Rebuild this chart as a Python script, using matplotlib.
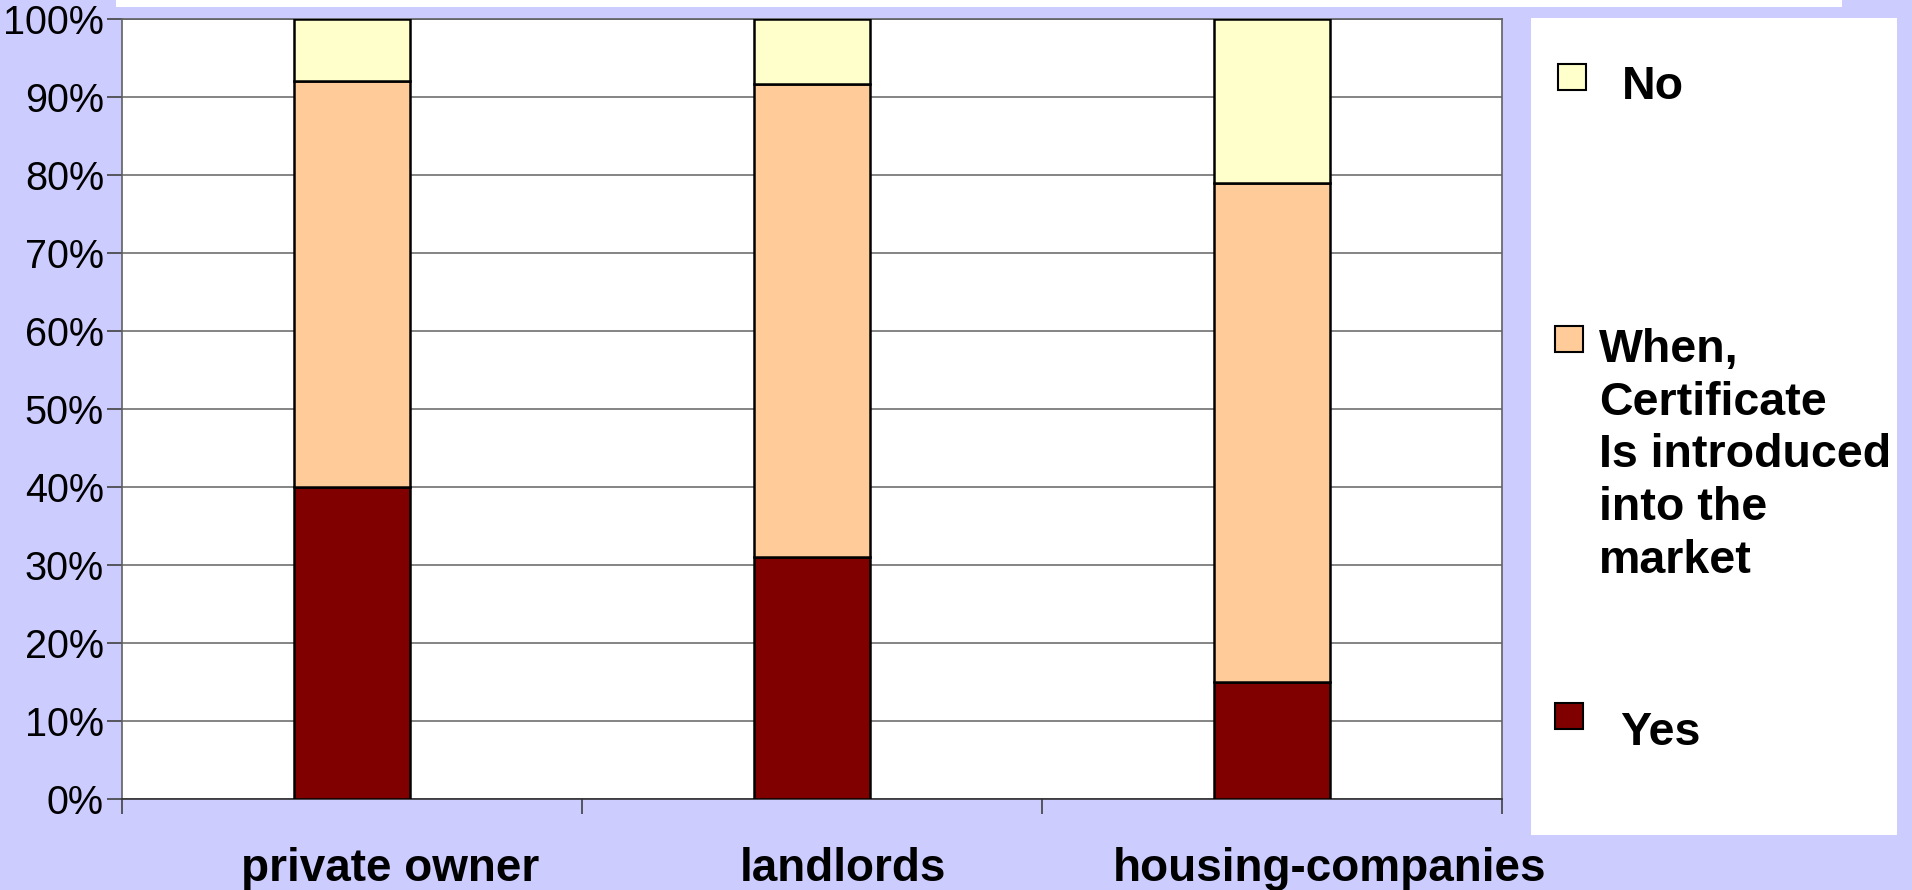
import matplotlib
matplotlib.use("Agg")
import matplotlib.pyplot as plt
from matplotlib.patches import Rectangle
from matplotlib.transforms import blended_transform_factory

plt.rcParams['font.family'] = ['Liberation Sans', 'DejaVu Sans']

# data (percent)
categories = ["private owner", "landlords", "housing-companies"]
yes_vals = [40, 31, 15]
when_vals = [52, 60.7, 64]
no_vals = [8, 8.3, 21]

series_names = ["Yes", "When,\nCertificate\nIs introduced\ninto the\nmarket", "No"]
series_colors = ["#800000", "#FFCC99", "#FFFFCC"]

BG = "#CCCCFF"
W, H = 1912, 890

fig = plt.figure(figsize=(W / 100, H / 100), dpi=100, facecolor=BG)
ax = fig.add_axes([122 / W, (H - 799) / H, 1380 / W, 780 / H])
ax.set_facecolor("white")

# white strip at the very top (cut-off title box)
fig.patches.append(Rectangle((116 / W, (H - 7) / H), (1842 - 116) / W, 7 / H,
                             transform=fig.transFigure, facecolor="white",
                             edgecolor="none", zorder=0))

x = [i + 0.5 for i in range(len(categories))]
bottom = [0] * len(categories)
for vals, color in zip([yes_vals, when_vals, no_vals], series_colors):
    ax.bar(x, vals, width=0.252, bottom=bottom, color=color,
           edgecolor="black", linewidth=1.8, zorder=3)
    bottom = [b + v for b, v in zip(bottom, vals)]

ax.set_xlim(0, len(categories))
ax.set_ylim(0, 100)
ax.set_yticks(range(0, 101, 10))
ax.set_yticklabels([f"{v}%" for v in range(0, 101, 10)], fontsize=28.5)
ax.yaxis.grid(True, color="#707070", linewidth=1.2, zorder=0)
ax.set_axisbelow(True)

ax.set_xticks(range(len(categories) + 1))
ax.set_xticklabels([])
ax.tick_params(axis="both", direction="out", length=11, width=1.2, color="#404040")
ax.tick_params(axis="y", pad=2)
for s in ax.spines.values():
    s.set_color("#606060")
    s.set_linewidth(1.2)
ax.spines["bottom"].set_color("#303030")

# category labels (placed slightly right of bar centres, like the original)
label_shift = [0.083, 0.067, 0.126]
trans = blended_transform_factory(ax.transData, fig.transFigure)
for xi, name, dx in zip(x, categories, label_shift):
    ax.text(xi + dx, (H - 869) / H, name, transform=trans, ha="center",
            va="center", fontsize=33, fontweight="bold")

# legend box
fig.patches.append(Rectangle((1531 / W, (H - 835) / H), (1897 - 1531) / W, (835 - 18) / H,
                             transform=fig.transFigure, facecolor="white",
                             edgecolor="none", zorder=1))
leg_items = [
    (2, 1558, 64, 1622, 87),
    (1, 1555, 326, 1599, 328),
    (0, 1555, 703, 1620, 733),
]
for idx, px, py, tx, ty in leg_items:
    fig.patches.append(Rectangle((px / W, (H - py - 26) / H), 28 / W, 26 / H,
                                 transform=fig.transFigure,
                                 facecolor=series_colors[idx], edgecolor="black",
                                 linewidth=1.5, zorder=2))
    if idx == 1:
        fig.text(tx / W, (H - ty) / H, series_names[idx], ha="left", va="top",
                 fontsize=33.5, fontweight="bold", linespacing=1.255)
    else:
        fig.text(tx / W, (H - ty) / H, series_names[idx], ha="left", va="center",
                 fontsize=33.5, fontweight="bold")

fig.savefig("out.png", dpi=100, facecolor=BG)
